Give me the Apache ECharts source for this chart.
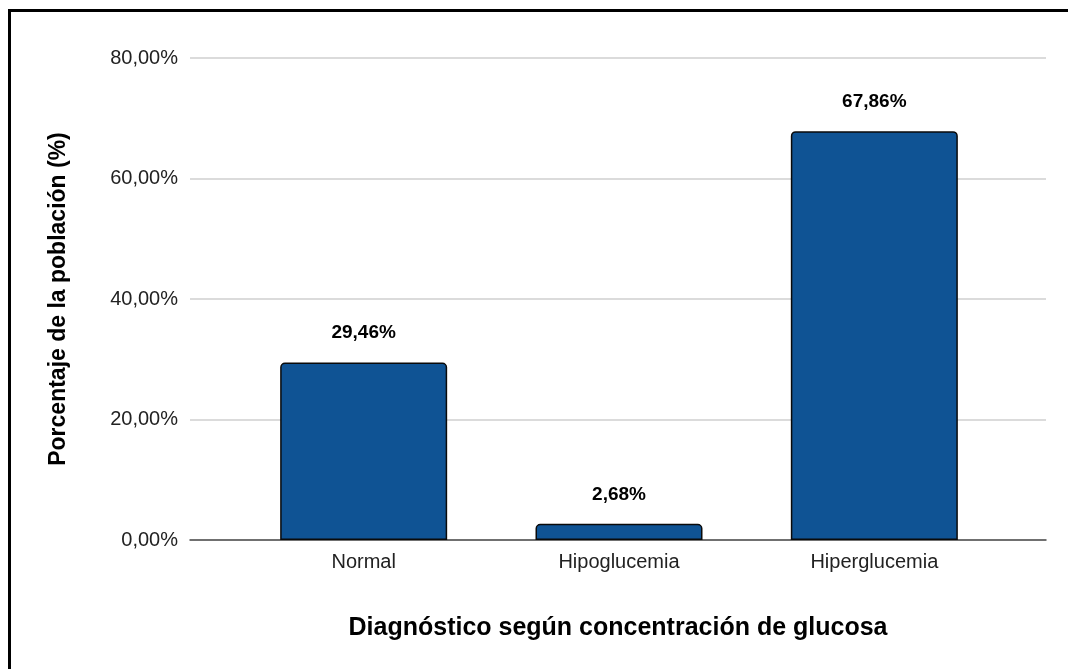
<!DOCTYPE html>
<html>
<head>
<meta charset="utf-8">
<script src="https://cdn.jsdelivr.net/npm/echarts@6/dist/echarts.min.js"></script>
<style>
  html, body { margin: 0; padding: 0; background: #fff; overflow: hidden; }
  #frame { position: absolute; left: 8px; top: 9px; width: 2000px; height: 2000px;
           border-left: 3px solid #000; border-top: 3px solid #000; }
  #chart { position: absolute; left: 0; top: 0; width: 1068px; height: 669px; }
</style>
</head>
<body>
<div id="frame"></div>
<div id="chart"></div>
<script>
const categories = ['Normal', 'Hipoglucemia', 'Hiperglucemia'];
const percentages = [29.46, 2.68, 67.86];
const yMin = 0, yMax = 80, yStep = 20;

const fmt = v => v.toFixed(2).replace('.', ',') + '%';
const font = 'Liberation Sans, Arial, sans-serif';

const chart = echarts.init(document.getElementById('chart'));
chart.setOption({
  animation: false,
  grid: [
    // full-width grid for gridlines, baseline and axis titles
    { left: 190, right: 22, top: 58, bottom: 129 },
    // narrower grid that holds the bars
    { left: 236, right: 66, top: 58, bottom: 129 }
  ],
  xAxis: [
    {
      gridIndex: 0, type: 'category', data: categories,
      axisLabel: { show: false }, axisTick: { show: false },
      axisLine: { lineStyle: { color: '#4d4d4d', width: 1.5 } },
      name: 'Diagnóstico según concentración de glucosa',
      nameLocation: 'middle', nameGap: 76,
      nameTextStyle: { fontFamily: font, fontSize: 25, fontWeight: 'bold', color: '#000' }
    },
    {
      gridIndex: 1, type: 'category', data: categories,
      axisLine: { show: false }, axisTick: { show: false },
      axisLabel: { fontFamily: font, fontSize: 20, color: '#222', margin: 12 }
    }
  ],
  yAxis: [
    {
      gridIndex: 0, type: 'value', min: yMin, max: yMax, interval: yStep,
      axisLine: { show: false }, axisTick: { show: false },
      splitLine: { lineStyle: { color: '#cfcfcf', width: 1.5 } },
      axisLabel: { formatter: fmt, fontFamily: font, fontSize: 20, color: '#222', margin: 12 },
      name: 'Porcentaje de la población (%)',
      nameLocation: 'middle', nameGap: 120,
      nameTextStyle: { fontFamily: font, fontSize: 23, fontWeight: 'bold', color: '#000' }
    },
    {
      gridIndex: 1, type: 'value', min: yMin, max: yMax, interval: yStep,
      show: false
    }
  ],
  series: [{
    type: 'bar',
    xAxisIndex: 1, yAxisIndex: 1,
    data: percentages,
    barWidth: 167,
    itemStyle: { color: '#0f5394', borderColor: '#0a0a0a', borderWidth: 1.5, borderRadius: [4, 4, 0, 0] },
    label: {
      show: true, position: 'top', distance: 20,
      formatter: p => fmt(p.value),
      fontFamily: font, fontSize: 19, fontWeight: 'bold', color: '#000'
    }
  }]
});
</script>
</body>
</html>
